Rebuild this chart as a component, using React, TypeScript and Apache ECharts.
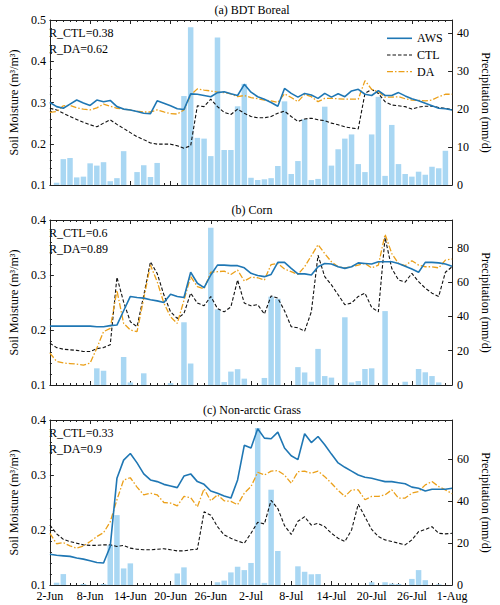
import React, { useEffect, useRef } from "react";
import * as echarts from "echarts";

const tickLabels = ["2-Jun", "8-Jun", "14-Jun", "20-Jun", "26-Jun", "2-Jul", "8-Jul", "14-Jul", "20-Jul", "26-Jul", "1-Aug"];
const panelTitles = ["(a) BDT Boreal", "(b) Corn", "(c) Non-arctic Grass"];
const rCtl = ["R_CTL=0.38", "R_CTL=0.6", "R_CTL=0.33"];
const rDa = ["R_DA=0.62", "R_DA=0.89", "R_DA=0.9"];
const legendNames = ["AWS", "CTL", "DA"];

const awsA = [0.300,0.290,0.286,0.296,0.306,0.299,0.293,0.306,0.302,0.305,
  0.290,0.284,0.282,0.278,0.274,0.273,0.304,0.298,0.292,0.285,
  0.283,0.321,0.320,0.317,0.314,0.324,0.326,0.321,0.317,0.344,
  0.325,0.314,0.308,0.300,0.291,0.334,0.322,0.313,0.322,0.318,
  0.310,0.322,0.313,0.321,0.314,0.328,0.332,0.320,0.317,0.329,
  0.317,0.317,0.324,0.316,0.309,0.304,0.298,0.292,0.286,0.285,
  0.282];
const ctlA = [0.286,0.282,0.274,0.266,0.259,0.252,0.246,0.241,0.250,0.258,
  0.247,0.237,0.227,0.217,0.210,0.202,0.199,0.199,0.199,0.195,
  0.189,0.195,0.292,0.290,0.308,0.290,0.276,0.271,0.284,0.274,
  0.266,0.263,0.263,0.266,0.274,0.279,0.266,0.254,0.260,0.262,
  0.258,0.256,0.250,0.246,0.241,0.238,0.236,0.322,0.332,0.322,
  0.302,0.294,0.292,0.290,0.284,0.289,0.291,0.291,0.288,0.286,
  0.282];
const daA = [0.276,0.278,0.292,0.293,0.287,0.284,0.282,0.287,0.296,0.291,
  0.286,0.284,0.282,0.279,0.277,0.277,0.282,0.277,0.273,0.272,
  0.282,0.318,0.333,0.330,0.328,0.325,0.324,0.321,0.314,0.317,
  0.312,0.309,0.306,0.304,0.300,0.321,0.312,0.302,0.320,0.314,
  0.302,0.310,0.310,0.309,0.308,0.308,0.308,0.353,0.332,0.326,
  0.313,0.313,0.314,0.309,0.306,0.305,0.304,0.306,0.314,0.320,
  0.320];
const precipA = [0,0.6,6.8,7.1,2.0,2.2,5.7,5.1,6.0,1.0,
  1.8,8.9,0,3.4,5.2,2.1,5.8,0,0,0,
  23.4,41.5,12.4,12.2,7.6,38.8,9.2,9.2,20.7,26.6,
  1.9,1.3,1.5,1.8,5.0,22.0,2.9,6.3,17.3,1.3,
  1.6,20.6,5.1,9.4,12.2,13.3,5.5,3.4,13.3,23.2,
  2.4,15.8,5.5,2.9,2.2,3.5,2.7,4.8,4.4,9.0,
  0];

const awsB = [0.207,0.207,0.207,0.207,0.207,0.207,0.207,0.206,0.206,0.208,
  0.209,0.235,0.261,0.259,0.258,0.255,0.253,0.250,0.265,0.261,
  0.259,0.305,0.285,0.277,0.300,0.318,0.318,0.317,0.317,0.313,
  0.303,0.299,0.297,0.301,0.323,0.323,0.312,0.302,0.302,0.300,
  0.315,0.321,0.320,0.315,0.312,0.315,0.322,0.321,0.320,0.324,
  0.324,0.324,0.321,0.316,0.311,0.305,0.323,0.323,0.322,0.320,
  0.316];
const ctlB = [0.176,0.168,0.165,0.164,0.163,0.161,0.161,0.166,0.168,0.173,
  0.296,0.251,0.215,0.206,0.263,0.324,0.303,0.264,0.233,0.221,
  0.230,0.267,0.249,0.244,0.261,0.239,0.233,0.242,0.291,0.249,
  0.244,0.246,0.229,0.262,0.258,0.235,0.206,0.204,0.198,0.233,
  0.336,0.297,0.282,0.264,0.246,0.249,0.261,0.267,0.241,0.233,
  0.368,0.312,0.291,0.287,0.303,0.288,0.276,0.267,0.261,0.305,
  0.315];
const daB = [0.158,0.143,0.140,0.139,0.138,0.136,0.140,0.167,0.197,0.203,
  0.272,0.212,0.200,0.197,0.257,0.318,0.288,0.249,0.224,0.212,
  0.254,0.297,0.279,0.275,0.305,0.306,0.307,0.301,0.309,0.289,
  0.296,0.295,0.291,0.319,0.321,0.311,0.306,0.301,0.315,0.335,
  0.355,0.339,0.324,0.315,0.313,0.315,0.318,0.321,0.313,0.318,
  0.374,0.339,0.321,0.317,0.326,0.318,0.315,0.315,0.313,0.327,
  0.329];
const precipB = [0,0,0,0,0,0,0,9.7,8.3,0,
  0,16.3,1.5,0,6.8,0,0,0,1.1,0,
  36.5,12.5,0,0,91.5,44,1.7,7.8,9.2,3.7,
  0,0,4.1,51.4,50.2,0,0,10.4,7.3,1.9,
  21,5.2,4.3,0,39.4,1.5,2.3,9.3,9.7,0,
  43,0,0,1.9,0,9.3,7.4,5.2,1.5,0,
  0];

const awsC = [0.156,0.154,0.153,0.152,0.149,0.147,0.144,0.141,0.140,0.170,
  0.294,0.327,0.339,0.322,0.302,0.291,0.288,0.283,0.280,0.277,
  0.298,0.302,0.288,0.283,0.271,0.267,0.262,0.258,0.291,0.354,
  0.349,0.384,0.367,0.366,0.378,0.349,0.335,0.328,0.375,0.359,
  0.370,0.355,0.338,0.322,0.314,0.307,0.300,0.296,0.294,0.291,
  0.288,0.288,0.286,0.284,0.278,0.276,0.271,0.274,0.274,0.274,
  0.276];
const ctlC = [0.209,0.193,0.183,0.179,0.176,0.173,0.172,0.172,0.173,0.173,
  0.170,0.172,0.167,0.165,0.164,0.164,0.165,0.166,0.164,0.162,
  0.162,0.164,0.165,0.233,0.227,0.206,0.191,0.185,0.180,0.176,
  0.194,0.214,0.211,0.254,0.239,0.208,0.192,0.216,0.224,0.209,
  0.212,0.206,0.194,0.185,0.179,0.200,0.247,0.224,0.201,0.188,
  0.182,0.179,0.176,0.173,0.182,0.197,0.201,0.206,0.194,0.193,
  0.194];
const daC = [0.194,0.175,0.177,0.171,0.167,0.171,0.179,0.188,0.195,0.215,
  0.255,0.291,0.295,0.278,0.264,0.267,0.264,0.250,0.249,0.244,
  0.261,0.259,0.242,0.275,0.253,0.264,0.253,0.252,0.246,0.267,
  0.279,0.305,0.300,0.307,0.308,0.300,0.285,0.306,0.307,0.303,
  0.307,0.297,0.285,0.272,0.261,0.273,0.273,0.255,0.261,0.261,
  0.264,0.273,0.258,0.258,0.267,0.270,0.282,0.288,0.279,0.273,
  0.266];
const precipC = [0,1.1,5.2,0,0,0.5,0,0,0.5,19,
  33.3,7.9,10.3,0,0,0,0,0,0,5.5,
  8.4,0,0,0,0,1.3,2.1,6.0,8.7,7.1,
  10.5,74.8,1.0,45.4,16.2,0,0,8.9,6.3,5.1,
  5.2,0,0,0,0,0,0,0,1.3,0,
  1.3,0.7,0.5,0,2.9,7.1,2.3,0,0.3,0,
  0];

const panels = [
  { aws: awsA, ctl: ctlA, da: daA, precip: precipA },
  { aws: awsB, ctl: ctlB, da: daB, precip: precipB },
  { aws: awsC, ctl: ctlC, da: daC, precip: precipC },
];
const smMax = [0.5, 0.4, 0.4];
const precipMax = [43.4, 96, 78.6];
const precipStep = [10, 20, 20];

const FONT = "'Liberation Serif', 'Times New Roman', serif";
const GRID_TOPS = [20, 220, 420];
const GRID_H = 165;
const LEFT = 41;
const RIGHT = 37;
const AX = "#222";
const BLUE = "#1f77b4";
const ORANGE = "#eba01a";
const BAR = "#a9d7f3";

const styles = {
  AWS: { color: BLUE, width: 1.6, dash: null as number[] | null },
  CTL: { color: "#111", width: 1.1, dash: [3.5, 2] },
  DA: { color: ORANGE, width: 1.3, dash: [6, 2, 1.5, 2] },
};

function buildOption() {
  const grid: any[] = [];
  const xAxis: any[] = [];
  const yAxis: any[] = [];
  const series: any[] = [];
  const graphic: any[] = [];
  const lineSty = { color: AX, width: 1 };

  panels.forEach((p, g) => {
    grid.push({ left: LEFT, right: RIGHT, top: GRID_TOPS[g], height: GRID_H, containLabel: false });
    const xBase = {
      type: "value",
      gridIndex: g,
      min: 0,
      max: 60,
      interval: 6,
      axisLine: { show: true, onZero: false, lineStyle: lineSty },
      axisTick: { show: true, inside: true, length: 4, lineStyle: lineSty },
      minorTick: { show: true, splitNumber: 6, length: 2, lineStyle: lineSty },
      splitLine: { show: false },
      minorSplitLine: { show: false },
    };
    xAxis.push({
      ...xBase,
      position: "bottom",
      axisLabel: {
        show: g === 2,
        margin: 5,
        fontSize: 12,
        color: "#000",
        fontFamily: FONT,
        formatter: (v: number) => tickLabels[Math.round(v / 6)] ?? "",
      },
    });
    xAxis.push({ ...xBase, position: "top", axisLabel: { show: false } });

    yAxis.push({
      type: "value",
      gridIndex: g,
      position: "left",
      min: 0.1,
      max: smMax[g],
      interval: 0.1,
      name: "Soil Moisture (m³/m³)",
      nameLocation: "middle",
      nameGap: 24,
      nameTextStyle: { fontSize: 12, fontFamily: FONT, color: "#000" },
      axisLine: { show: true, onZero: false, lineStyle: lineSty },
      axisTick: { show: true, inside: true, length: 4, lineStyle: lineSty },
      minorTick: { show: true, splitNumber: 5, length: 2, lineStyle: lineSty },
      splitLine: { show: false },
      axisLabel: {
        margin: 4,
        fontSize: 12,
        color: "#000",
        fontFamily: FONT,
        formatter: (v: number) => v.toFixed(1),
      },
    });
    yAxis.push({
      type: "value",
      gridIndex: g,
      position: "right",
      min: 0,
      max: precipMax[g],
      interval: precipStep[g],
      name: "Precipitation (mm/d)",
      nameLocation: "middle",
      nameRotate: -90,
      nameGap: 22,
      nameTextStyle: { fontSize: 12, fontFamily: FONT, color: "#000" },
      axisLine: { show: true, onZero: false, lineStyle: lineSty },
      axisTick: { show: true, inside: true, length: 4, lineStyle: lineSty },
      splitLine: { show: false },
      axisLabel: {
        margin: 5,
        fontSize: 12,
        color: "#000",
        fontFamily: FONT,
        showMaxLabel: false,
      },
    });

    series.push({
      name: "Precipitation",
      type: "bar",
      xAxisIndex: 2 * g,
      yAxisIndex: 2 * g + 1,
      barWidth: 5.5,
      itemStyle: { color: BAR },
      data: p.precip.map((v, i) => [i, v]),
      z: 1,
    });
    const lines: [string, number[]][] = [["CTL", p.ctl], ["DA", p.da], ["AWS", p.aws]];
    lines.forEach(([name, arr]) => {
      const s = (styles as any)[name];
      series.push({
        name,
        type: "line",
        xAxisIndex: 2 * g,
        yAxisIndex: 2 * g,
        symbol: "none",
        lineStyle: { color: s.color, width: s.width, type: s.dash ?? "solid" },
        itemStyle: { color: s.color },
        data: arr.map((v, i) => [i, v]),
        z: name === "AWS" ? 4 : 3,
      });
    });

    const top = GRID_TOPS[g];
    graphic.push({
      type: "text",
      x: 252,
      y: top - 10,
      style: { text: panelTitles[g], font: `12px ${FONT}`, fill: "#000", textAlign: "center", textVerticalAlign: "middle" },
    });
    graphic.push({
      type: "text",
      x: 49,
      y: top + 12.5,
      style: { text: rCtl[g], font: `12px ${FONT}`, fill: "#000", textAlign: "left", textVerticalAlign: "middle" },
    });
    graphic.push({
      type: "text",
      x: 49,
      y: top + 29,
      style: { text: rDa[g], font: `12px ${FONT}`, fill: "#000", textAlign: "left", textVerticalAlign: "middle" },
    });
  });

  // legend (panel a), drawn by hand so the line styles match exactly
  legendNames.forEach((name, k) => {
    const s = (styles as any)[name];
    const y = 38.3 + k * 16.7;
    graphic.push({
      type: "line",
      shape: { x1: 387, y1: y, x2: 412, y2: y },
      style: { stroke: s.color, lineWidth: s.width, lineDash: s.dash ?? undefined },
      z: 10,
    });
    graphic.push({
      type: "text",
      x: 417,
      y,
      style: { text: name, font: `12px ${FONT}`, fill: "#000", textAlign: "left", textVerticalAlign: "middle" },
      z: 10,
    });
  });

  return {
    animation: false,
    backgroundColor: "#fff",
    textStyle: { fontFamily: FONT },
    grid,
    xAxis,
    yAxis,
    series,
    graphic,
  };
}

export default function App() {
  const ref = useRef<HTMLDivElement>(null);
  useEffect(() => {
    if (!ref.current) return;
    const chart = echarts.init(ref.current, undefined, { renderer: "svg" });
    chart.setOption(buildOption() as any);
    return () => chart.dispose();
  }, []);
  return (
    <div
      ref={ref}
      style={{ position: "fixed", left: 0, top: 0, width: 500, height: 605, background: "#fff" }}
    />
  );
}
